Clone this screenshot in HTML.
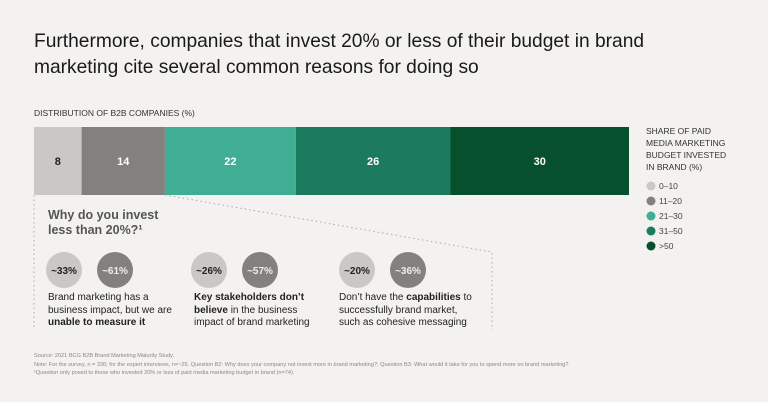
<!DOCTYPE html>
<html><head><meta charset="utf-8"><style>
body{margin:0;width:768px;height:402px;background:#f3f2f0;font-family:"Liberation Sans",sans-serif;position:relative;overflow:hidden;color:#222}
.t{position:absolute;margin:0}
</style></head><body>
<h1 class="t" style="left:34px;top:29px;font-size:19.2px;font-weight:normal;line-height:26px;color:#1a1a1a">Furthermore, companies that invest 20% or less of their budget in brand<br>marketing cite several common reasons for doing so</h1>
<div class="t" style="left:34px;top:108px;font-size:8.5px;color:#333">DISTRIBUTION OF B2B COMPANIES (%)</div>
<svg id="chart" width="768" height="402" style="position:absolute;left:0;top:0"></svg>
<div class="t" style="left:646px;top:125px;font-size:8.5px;line-height:12px;color:#333">SHARE OF PAID<br>MEDIA MARKETING<br>BUDGET INVESTED<br>IN BRAND (%)</div>
<div class="t" style="left:48px;top:208px;font-size:12.5px;font-weight:bold;line-height:15px;color:#555">Why do you invest<br>less than 20%?¹</div>
<div class="t" style="left:48px;top:292px;font-size:10px;line-height:12.7px">Brand marketing has a<br>business impact, but we are<br><b>unable to measure it</b></div>
<div class="t" style="left:194px;top:292px;font-size:10px;line-height:12.7px"><b>Key stakeholders don’t<br>believe</b> in the business<br>impact of brand marketing</div>
<div class="t" style="left:339px;top:292px;font-size:10px;line-height:12.7px">Don’t have the <b>capabilities</b> to<br>successfully brand market,<br>such as cohesive messaging</div>
<div class="t" style="left:34px;top:352px;font-size:5.6px;line-height:8.5px;color:#888;white-space:nowrap">Source: 2021 BCG B2B Brand Marketing Maturity Study.<br>Note: For the survey, n = 330; for the expert interviews, n=~25. Question B2: Why does your company not invest more in brand marketing?; Question B3: What would it take for you to spend more on brand marketing?<br>¹Question only posed to those who invested 20% or less of paid media marketing budget in brand (n=74).</div>
<script>
const categories=["0–10","11–20","21–30","31–50",">50"];
const values=[8,14,22,26,30];
const colors=["#c9c8c6","#828180","#3fae94","#1c7b5c","#07502e"];
const textColors=["#222","#fff","#fff","#fff","#fff"];
const circleVals=["~33%","~61%","~26%","~57%","~20%","~36%"];
const svg=document.getElementById('chart');
const NS="http://www.w3.org/2000/svg";
const x0=34,x1=629,y0=127,h=68;
const total=values.reduce((a,b)=>a+b,0);
const sx=v=>v/total*(x1-x0);
function mk(t,a){const e=document.createElementNS(NS,t);for(const k in a)e.setAttribute(k,a[k]);svg.appendChild(e);return e;}
let acc=0;
values.forEach((v,i)=>{
 const x=x0+sx(acc);
 const r=mk('rect',{x:x,y:y0,width:sx(v),height:h,fill:colors[i]});
 
 
 const t=mk('text',{x:x+sx(v)/2,y:y0+h/2+4,'text-anchor':'middle','font-size':11,'font-weight':'bold',fill:textColors[i],'font-family':'Liberation Sans'});
 t.textContent=v;
 
 
 acc+=v;
});
const xr=x0+sx(values[0]+values[1]);
const dl={stroke:'#aaa','stroke-width':1,'stroke-dasharray':'1.5,3',fill:'none'};
const p=mk('polyline',Object.assign({points:`${x0},${y0+h} ${x0},330`},dl));


const p2=mk('polyline',Object.assign({points:`${xr},${y0+h} 492,252 492,330`},dl));


const cx=[64,115,209,260,357,408];
circleVals.forEach((c,i)=>{
 const dark=i%2==1;
 const ci=mk('circle',{cx:cx[i],cy:270,r:18,fill:dark?'#828180':'#c9c8c6'});
 
 
 const t=mk('text',{x:cx[i],y:274,'text-anchor':'middle','font-size':10,'font-weight':'bold',fill:dark?'#eee':'#222','font-family':'Liberation Sans'});
 t.textContent=c;
 
 
});
categories.forEach((c,i)=>{
 const y=186+i*15;
 const d=mk('circle',{cx:651,cy:y,r:4.5,fill:colors[i]});
 
 
 const t=mk('text',{x:659,y:y+3,'font-size':8.5,fill:'#444','font-family':'Liberation Sans'});
 t.textContent=c;
 
 
});
</script>
</body></html>
